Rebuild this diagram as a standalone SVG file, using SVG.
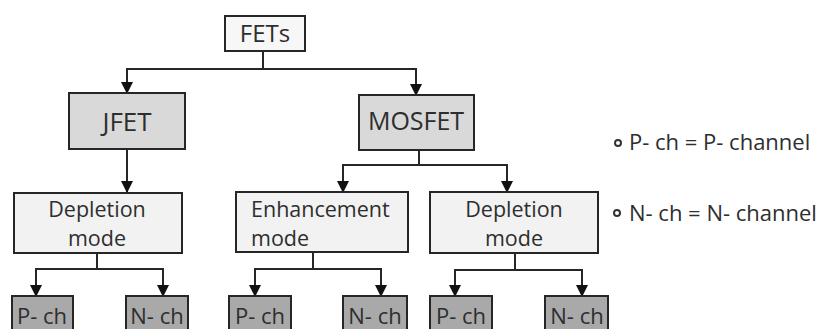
<svg xmlns="http://www.w3.org/2000/svg" width="824" height="329" viewBox="0 0 824 329">
<style>
.box{stroke:#262626;stroke-width:2}
.top{fill:#f7f7f7}
.l1{fill:#d9d9d9}
.l2{fill:#f2f2f2}
.l3{fill:#a9a9a9}
text{font-family:"Open Sans","Liberation Sans",sans-serif;fill:#2e2e2e;font-size:22px}
.c{text-anchor:middle}
.m{font-size:21.5px}
.conn{fill:none;stroke:#262626;stroke-width:2}
</style>
<defs>
<marker id="ah" markerUnits="userSpaceOnUse" markerWidth="12" markerHeight="12" viewBox="0 0 12 12" refX="11" refY="6" orient="auto">
<path d="M0,0 L12,6 L0,12 Z" fill="#111"/>
</marker>
</defs>
<g id="connectors" class="conn">
<path d="M263 51 V69 H127 V93" marker-end="url(#ah)"/>
<path d="M263 69 H416 V95" marker-end="url(#ah)"/>
<path d="M127 149 V192" marker-end="url(#ah)"/>
<path d="M419 150 V165 H343 V192" marker-end="url(#ah)"/>
<path d="M419 165 H507 V192" marker-end="url(#ah)"/>
<path d="M97 253 V269 H36 V296" marker-end="url(#ah)"/>
<path d="M97 269 H163 V296" marker-end="url(#ah)"/>
<path d="M313 252 V269 H255 V296" marker-end="url(#ah)"/>
<path d="M313 269 H381 V296" marker-end="url(#ah)"/>
<path d="M515 253 V270 H455 V296" marker-end="url(#ah)"/>
<path d="M515 270 H582 V296" marker-end="url(#ah)"/>
</g>
<g id="fets"><rect class="box top" x="225" y="16" width="80" height="35"/><text class="c" x="265" y="42" style="font-size:24px">FETs</text></g>
<g id="jfet"><rect class="box l1" x="69" y="93" width="116" height="56"/><text class="c" x="127" y="131" style="font-size:26px">JFET</text></g>
<g id="mosfet"><rect class="box l1" x="359" y="95" width="115" height="55"/><text class="c" x="416" y="130" style="font-size:25px">MOSFET</text></g>
<g id="dep1"><rect class="box l2" x="14" y="193" width="168" height="60"/><text class="c m" x="97" y="217">Depletion</text><text class="c m" x="97" y="246">mode</text></g>
<g id="enh"><rect class="box l2" x="236" y="192" width="172" height="60"/><text class="m" x="251" y="217">Enhancement</text><text class="m" x="251" y="246">mode</text></g>
<g id="dep2"><rect class="box l2" x="430" y="192" width="168" height="61"/><text class="c m" x="514" y="217">Depletion</text><text class="c m" x="514" y="246">mode</text></g>
<g id="p1"><rect class="box l3" x="12" y="296" width="61" height="40"/><text class="c" x="42" y="324">P- ch</text></g>
<g id="n1"><rect class="box l3" x="126" y="296" width="62" height="40"/><text class="c" x="157" y="324">N- ch</text></g>
<g id="p2"><rect class="box l3" x="229" y="296" width="62" height="40"/><text class="c" x="260" y="324">P- ch</text></g>
<g id="n2"><rect class="box l3" x="343" y="296" width="64" height="40"/><text class="c" x="375" y="324">N- ch</text></g>
<g id="p3"><rect class="box l3" x="430" y="296" width="62" height="40"/><text class="c" x="461" y="324">P- ch</text></g>
<g id="n3"><rect class="box l3" x="545" y="296" width="63" height="40"/><text class="c" x="577" y="324">N- ch</text></g>
<g id="legend">
<circle cx="618" cy="143" r="3" fill="none" stroke="#333" stroke-width="2"/>
<text x="629" y="150">P- ch = P- channel</text>
<circle cx="617" cy="213" r="3" fill="none" stroke="#333" stroke-width="2"/>
<text x="629" y="221">N- ch = N- channel</text>
</g>
</svg>
